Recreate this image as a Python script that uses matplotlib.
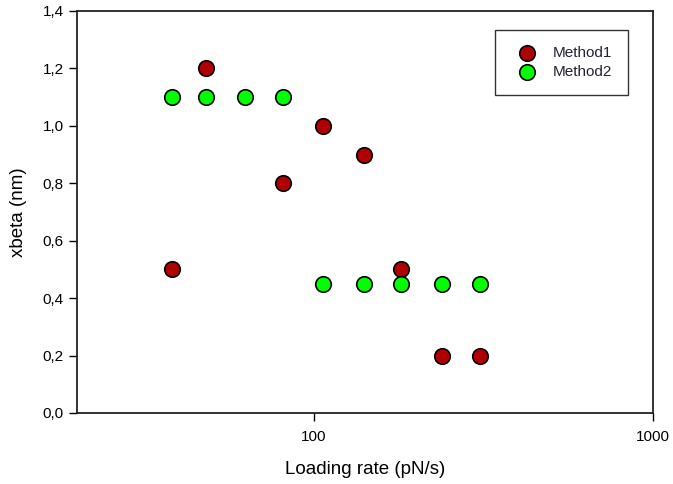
import matplotlib.pyplot as plt
from matplotlib.ticker import FixedLocator, FuncFormatter

plt.rcParams['font.family'] = ['Liberation Sans', 'DejaVu Sans']

# loading rates (pN/s) and xbeta (nm) for both methods
rate_m1 = [38, 48, 81, 106, 140, 181, 239, 309]
xbeta_m1 = [0.5, 1.2, 0.8, 1.0, 0.9, 0.5, 0.2, 0.2]

rate_m2 = [38, 48, 62.5, 81, 106, 140, 181, 239, 309]
xbeta_m2 = [1.1, 1.1, 1.1, 1.1, 0.45, 0.45, 0.45, 0.45, 0.45]

y_ticks = [0.0, 0.2, 0.4, 0.6, 0.8, 1.0, 1.2, 1.4]
x_ticks = [100, 1000]

fig = plt.figure(figsize=(6.73, 4.84), dpi=100)
ax = fig.add_axes([0.1144, 0.1467, 0.8559, 0.8306])

ax.scatter(rate_m1, xbeta_m1, s=125, color="#b00000", edgecolor="black",
           linewidth=1.2, zorder=3, label="Method1")
ax.scatter(rate_m2, xbeta_m2, s=125, color="#00ff00", edgecolor="black",
           linewidth=1.2, zorder=4, label="Method2")

ax.set_xscale("log")
ax.set_xlim(20, 1000)
ax.set_ylim(0, 1.4)
ax.xaxis.set_major_locator(FixedLocator(x_ticks))
ax.xaxis.set_minor_locator(FixedLocator([]))
ax.xaxis.set_major_formatter(FuncFormatter(lambda v, p: f"{v:.0f}"))
ax.set_yticks(y_ticks)
ax.yaxis.set_major_formatter(FuncFormatter(lambda v, p: f"{v:.1f}".replace(".", ",")))

ax.tick_params(direction="out", length=5.5, width=1, labelsize=11)
ax.tick_params(axis="x", pad=7)
ax.tick_params(axis="y", pad=4)
for s in ax.spines.values():
    s.set_linewidth(1.3)
    s.set_color("#222222")

ax.set_xlabel("Loading rate (pN/s)", fontsize=13.5, labelpad=12)
ax.set_ylabel("xbeta (nm)", fontsize=13.5, labelpad=11)

leg = ax.legend(loc="upper right", bbox_to_anchor=(0.9566, 0.9527), fontsize=11,
                frameon=True, fancybox=False, edgecolor="black",
                borderpad=1.05, handletextpad=0.7, labelspacing=0.3,
                borderaxespad=0, handlelength=2.0)
leg.get_frame().set_linewidth(1.0)
for t in leg.get_texts():
    t.set_color("#222233")

fig.savefig("out.png", dpi=100)
